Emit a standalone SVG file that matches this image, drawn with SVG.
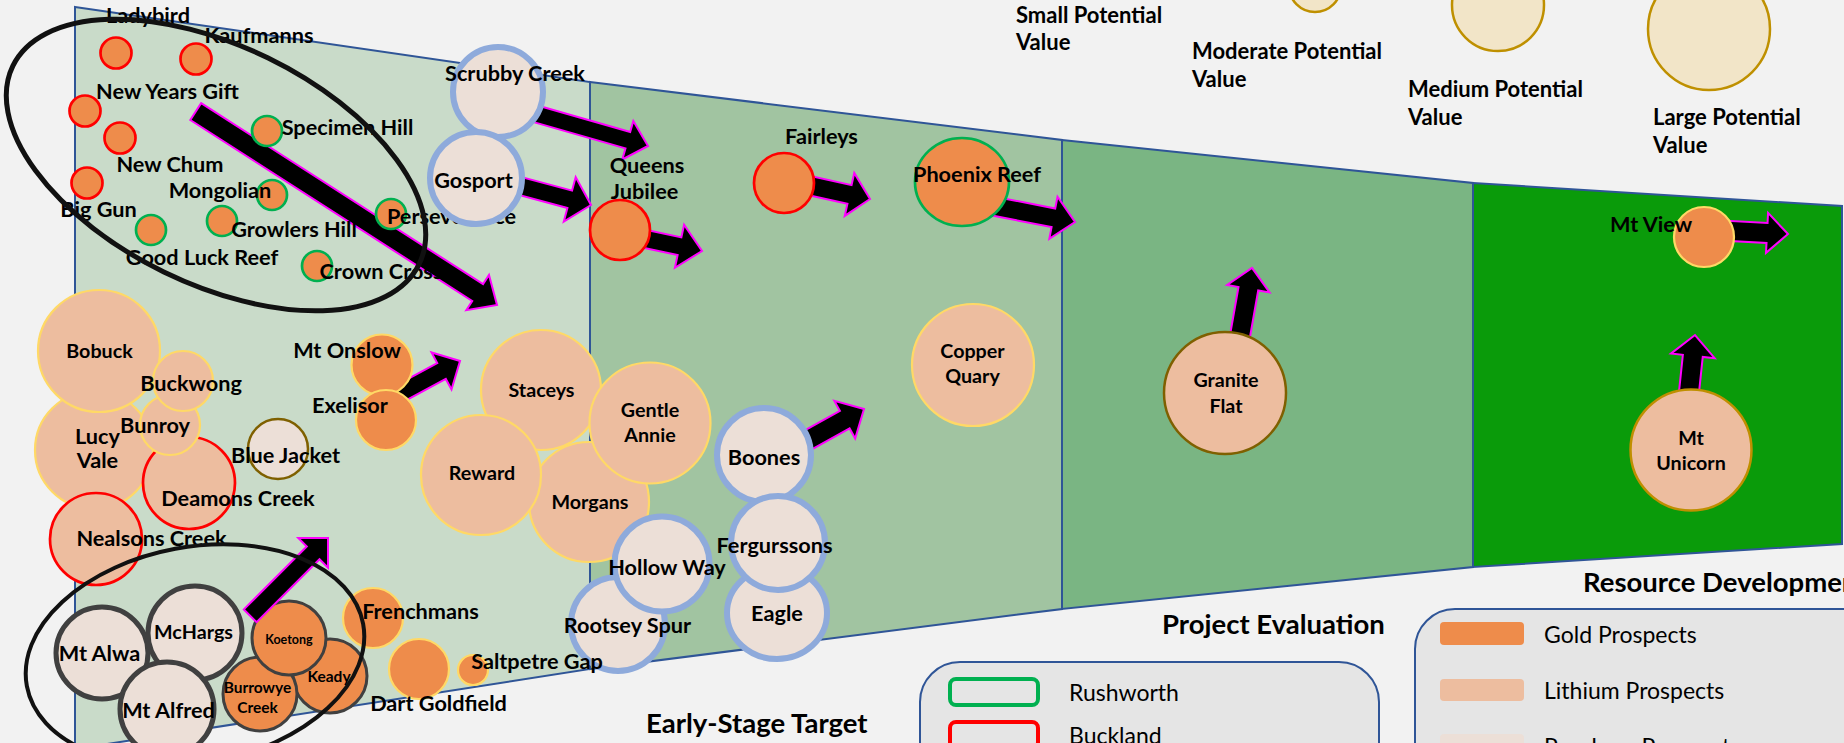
<svg xmlns="http://www.w3.org/2000/svg" width="1844" height="743" viewBox="0 0 1844 743">
<style>
text{font-family:Lato,"Open Sans","DejaVu Sans",sans-serif;fill:#000}
.l{font-weight:bold;font-size:21.7px;text-anchor:middle}
.m{font-weight:bold;font-size:19.7px;text-anchor:middle}
.s{font-weight:bold;font-size:15.5px;text-anchor:middle}
.t{font-weight:bold;font-size:27.5px}
.v{font-weight:bold;font-size:22px}
.g{font-size:23px}
.sec{stroke:#2f5597;stroke-width:2}
.au{fill:#ee8c4b}
.li{fill:#edbd9f}
.po{fill:#ecdfd7}
.r{stroke:#ff0000;stroke-width:2.7}
.gr{stroke:#00b050;stroke-width:2.7}
.y{stroke:#ffd966;stroke-width:2.2}
.b{stroke:#8eaadb;stroke-width:6}
.d{stroke:#404040;stroke-width:5}
.d3{stroke:#404040;stroke-width:3}
.br{stroke:#7f6000;stroke-width:2.5}
.ar{fill:#000;stroke:#ff00ff;stroke-width:2}
.sz{fill:#f2e5c8;stroke:#bf9000;stroke-width:2.5}
.ell{fill:none;stroke:#111;stroke-width:5}
</style>
<rect width="1844" height="743" fill="#f2f2f2"/>
<g id="stages">
<polygon class="sec" fill="#c9dbc9" points="75,7 590,82 590,669 75,749"/>
<polygon class="sec" fill="#a1c4a1" points="590,82 1062,140 1062,609 590,669"/>
<polygon class="sec" fill="#7ab583" points="1062,140 1473,183 1473,567 1062,609"/>
<polygon class="sec" fill="#0a9b0a" points="1473,183 1842,206 1842,544 1473,567"/>
<text class="t" x="646" y="733">Early-Stage Target</text>
<text class="t" x="1162" y="634">Project Evaluation</text>
<text class="t" x="1583" y="592">Resource Development</text>
</g>
<g id="size-legend">
<circle class="sz" cx="1315" cy="-14" r="26"/>
<circle class="sz" cx="1498" cy="5" r="46"/>
<circle class="sz" cx="1709" cy="29" r="61"/>
<text class="v" x="1016" y="23">Small Potential</text><text class="v" x="1016" y="50">Value</text>
<text class="v" x="1192" y="59">Moderate Potential</text><text class="v" x="1192" y="87">Value</text>
<text class="v" x="1408" y="97">Medium Potential</text><text class="v" x="1408" y="125">Value</text>
<text class="v" x="1653" y="125">Large Potential</text><text class="v" x="1653" y="153">Value</text>
</g>
<g id="legend-region">
<rect x="920" y="662" width="459" height="140" rx="40" fill="#e5e5e5" stroke="#2f5597" stroke-width="2"/>
<rect x="950" y="679" width="88" height="26" rx="6" fill="none" stroke="#00b050" stroke-width="4"/>
<text class="g" x="1069" y="701">Rushworth</text>
<rect x="950" y="722" width="88" height="26" rx="6" fill="none" stroke="#ff0000" stroke-width="4"/>
<text class="g" x="1069" y="744">Buckland</text>
</g>
<g id="legend-type">
<rect x="1415" y="609" width="500" height="200" rx="40" fill="#e5e5e5" stroke="#2f5597" stroke-width="2"/>
<rect x="1440" y="622" width="84" height="23" rx="4" fill="#ee8c4b"/>
<text class="g" x="1544" y="643">Gold Prospects</text>
<rect x="1440" y="679" width="84" height="22" rx="4" fill="#edbd9f"/>
<text class="g" x="1544" y="699">Lithium Prospects</text>
<rect x="1440" y="734" width="84" height="22" rx="4" fill="#ecdfd7"/>
<text class="g" x="1544" y="755">Porphyry Prospects</text>
</g>
<g id="connectors">
<polygon class="ar" transform="translate(497,305) rotate(32.7)" points="-358,-10 -23,-10 -23,-21 0,0 -23,21 -23,10 -358,10"/>
<polygon class="ar" transform="translate(648,146) rotate(16)" points="-130,-8.5 -21,-8.5 -21,-20 0,0 -21,20 -21,8.5 -130,8.5"/>
<polygon class="ar" transform="translate(591,205) rotate(15)" points="-110,-9 -22,-9 -22,-23 0,0 -22,23 -22,9 -110,9"/>
<polygon class="ar" transform="translate(702,251) rotate(12)" points="-80,-9 -23,-9 -23,-22 0,0 -23,22 -23,9 -80,9"/>
<polygon class="ar" transform="translate(870,199) rotate(12.5)" points="-85,-9.5 -21,-9.5 -21,-22 0,0 -21,22 -21,9.5 -85,9.5"/>
<polygon class="ar" transform="translate(1075,222) rotate(11)" points="-110,-9.5 -22,-9.5 -22,-21.5 0,0 -22,21.5 -22,9.5 -110,9.5"/>
<polygon class="ar" transform="translate(1788,234) rotate(3)" points="-80,-10 -21,-10 -21,-20 0,0 -21,20 -21,10 -80,10"/>
<polygon class="ar" transform="translate(1252,268) rotate(-80)" points="-110,-10 -21,-10 -21,-21.5 0,0 -21,21.5 -21,10 -110,10"/>
<polygon class="ar" transform="translate(1695,335) rotate(-84)" points="-110,-10 -21,-10 -21,-22 0,0 -21,22 -21,10 -110,10"/>
<polygon class="ar" transform="translate(460,361) rotate(-28.4)" points="-80,-9 -21,-9 -21,-21 0,0 -21,21 -21,9 -80,9"/>
<polygon class="ar" transform="translate(864,409) rotate(-29)" points="-110,-10 -22,-10 -22,-21.5 0,0 -22,21.5 -22,10 -110,10"/>
</g>
<g id="Ladybird"><circle class="au r" cx="116" cy="53" r="15.5"/><text class="l" x="148" y="23">Ladybird</text></g>
<g id="Kaufmanns"><circle class="au r" cx="196" cy="59" r="15.5"/><text class="l" x="259" y="43">Kaufmanns</text></g>
<g id="NewYearsGift"><circle class="au r" cx="85" cy="111" r="15.5"/><text class="l" x="167.5" y="99">New Years Gift</text></g>
<g id="NewChum"><circle class="au r" cx="120" cy="138" r="15.5"/><text class="l" x="170" y="172">New Chum</text></g>
<g id="BigGun"><circle class="au r" cx="87" cy="183" r="15.5"/><text class="l" x="98.5" y="217">Big Gun</text></g>
<g id="SpecimenHill"><circle class="au gr" cx="267" cy="131" r="15"/><text class="l" x="347.5" y="135">Specimen Hill</text></g>
<g id="Mongolian"><circle class="au gr" cx="272" cy="195" r="15"/><text class="l" x="220" y="198">Mongolian</text></g>
<g id="GrowlersHill"><circle class="au gr" cx="222" cy="221" r="15"/><text class="l" x="294" y="237">Growlers Hill</text></g>
<g id="GoodLuckReef"><circle class="au gr" cx="151" cy="230" r="15"/><text class="l" x="202" y="265">Good Luck Reef</text></g>
<g id="Perseverance"><circle class="au gr" cx="391" cy="214" r="15"/><text class="l" x="451.5" y="224">Perseverance</text></g>
<g id="CrownCross"><circle class="au gr" cx="317" cy="266" r="15"/><text class="l" x="381" y="279">Crown Cross</text></g>
<g id="LucyVale"><circle class="li y" cx="94" cy="450" r="59"/><text class="l" x="97.5" y="444">Lucy</text><text class="l" x="97.5" y="468">Vale</text></g>
<g id="NealsonsCreek"><circle class="li r" cx="96" cy="539" r="46"/><text class="l" x="151.5" y="546">Nealsons Creek</text></g>
<g id="DeamonsCreek"><circle class="li r" cx="189" cy="483" r="46"/><text class="l" x="238" y="506">Deamons Creek</text></g>
<g id="Bobuck"><circle class="li y" cx="99" cy="351" r="61"/><text class="m" x="99.5" y="358">Bobuck</text></g>
<g id="Bunroy"><circle class="li y" cx="170" cy="425" r="30"/><text class="l" x="155" y="433">Bunroy</text></g>
<g id="Buckwong"><circle class="li y" cx="183" cy="381" r="30"/><text class="l" x="191" y="391">Buckwong</text></g>
<g id="BlueJacket"><circle class="po br" cx="278" cy="449" r="30"/><text class="l" x="285.5" y="463">Blue Jacket</text></g>
<g id="MtOnslow"><circle class="au y" cx="382" cy="365" r="30.5"/><text class="l" x="347" y="358">Mt Onslow</text></g>
<g id="Exelisor"><circle class="au y" cx="386" cy="420" r="30"/><text class="l" x="350" y="413">Exelisor</text></g>
<g id="Morgans"><circle class="li y" cx="589" cy="502" r="60"/><text class="m" x="590" y="509">Morgans</text></g>
<g id="Staceys"><circle class="li y" cx="541" cy="390" r="60"/><text class="m" x="541.5" y="397">Staceys</text></g>
<g id="Reward"><circle class="li y" cx="481" cy="475" r="60"/><text class="m" x="482" y="480">Reward</text></g>
<g id="GentleAnnie"><circle class="li y" cx="650" cy="423" r="60.5"/><text class="m" x="650" y="417">Gentle</text><text class="m" x="650" y="442">Annie</text></g>
<g id="ScrubbyCreek"><circle class="po b" cx="498" cy="92" r="45"/><text class="l" x="515" y="81">Scrubby Creek</text></g>
<g id="Gosport"><circle class="po b" cx="476" cy="178" r="46"/><text class="l" x="473.5" y="188">Gosport</text></g>
<g id="QueensJubilee"><circle class="au r" cx="620" cy="230" r="30"/><text class="l" x="647" y="173">Queens</text><text class="l" x="644.5" y="199">Jubilee</text></g>
<g id="Fairleys"><circle class="au r" cx="784" cy="183" r="30"/><text class="l" x="821.5" y="144">Fairleys</text></g>
<g id="PhoenixReef"><ellipse class="au gr" cx="962" cy="182" rx="47" ry="44"/><text class="l" x="977" y="182">Phoenix Reef</text></g>
<g id="CopperQuary"><circle class="li y" cx="973" cy="365" r="61"/><text class="m" x="972.5" y="358">Copper</text><text class="m" x="972.5" y="383">Quary</text></g>
<g id="Boones"><circle class="po b" cx="764" cy="455" r="47"/><text class="l" x="764" y="465">Boones</text></g>
<g id="Eagle"><ellipse class="po b" cx="777" cy="613" rx="50" ry="46"/><text class="l" x="777" y="621">Eagle</text></g>
<g id="Fergurssons"><circle class="po b" cx="778" cy="543" r="47"/><text class="l" x="774.5" y="553">Fergurssons</text></g>
<g id="RootseySpur"><circle class="po b" cx="618" cy="624" r="47"/><text class="l" x="627.5" y="633">Rootsey Spur</text></g>
<g id="HollowWay"><circle class="po b" cx="662" cy="564" r="47.5"/><text class="l" x="667" y="575">Hollow Way</text></g>
<g id="GraniteFlat"><circle class="li br" cx="1225" cy="393" r="61"/><text class="m" x="1226" y="387">Granite</text><text class="m" x="1226" y="413">Flat</text></g>
<g id="MtView"><circle class="au y" cx="1704" cy="237" r="30"/><text class="l" x="1651" y="232">Mt View</text></g>
<g id="MtUnicorn"><circle class="li" stroke="#bf8f00" stroke-width="2.5" cx="1691" cy="450" r="60.5"/><text class="m" x="1691" y="445">Mt</text><text class="m" x="1691" y="470">Unicorn</text></g>
<g id="Frenchmans"><circle class="au y" cx="373" cy="618" r="30"/><text class="l" x="420.5" y="619">Frenchmans</text></g>
<g id="DartGoldfield"><circle class="au y" cx="419" cy="669" r="30"/><text class="l" x="438.5" y="711">Dart Goldfield</text></g>
<g id="SaltpetreGap"><circle class="au y" cx="473" cy="670" r="15"/><text class="l" x="537" y="669">Saltpetre Gap</text></g>
<g id="MtAlwa"><circle class="po d" cx="102" cy="653" r="46"/><text class="l" x="99.5" y="661">Mt Alwa</text></g>
<g id="McHargs"><circle class="po d" cx="195" cy="633" r="47"/><text class="m" x="193.5" y="639">McHargs</text></g>
<g id="MtAlfred"><circle class="po d" cx="167" cy="709" r="47"/><text class="l" x="168.5" y="718">Mt Alfred</text></g>
<g id="Keady"><circle class="au d3" cx="330" cy="676" r="37"/><text class="s" x="329" y="682">Keady</text></g>
<g id="BurrowyeCreek"><circle class="au d3" cx="260" cy="694" r="37"/><text class="s" x="257.5" y="693">Burrowye</text><text class="s" x="257.5" y="713">Creek</text></g>
<g id="Koetong"><circle class="au d3" cx="289" cy="638" r="37"/><text class="s" x="289" y="644" style="font-size:12.5px">Koetong</text></g>
<g id="connectors-top">
<polygon class="ar" transform="translate(328,538) rotate(-45)" points="-110,-9 -21,-9 -21,-21 0,0 -21,21 -21,9 -110,9"/>
</g>
<g id="groups">
<ellipse class="ell" cx="216" cy="165" rx="226" ry="119" transform="rotate(26 216 165)"/>
<ellipse class="ell" cx="195" cy="655" rx="171" ry="108" transform="rotate(-10.5 195 655)" style="stroke-width:4"/>
</g>
</svg>
